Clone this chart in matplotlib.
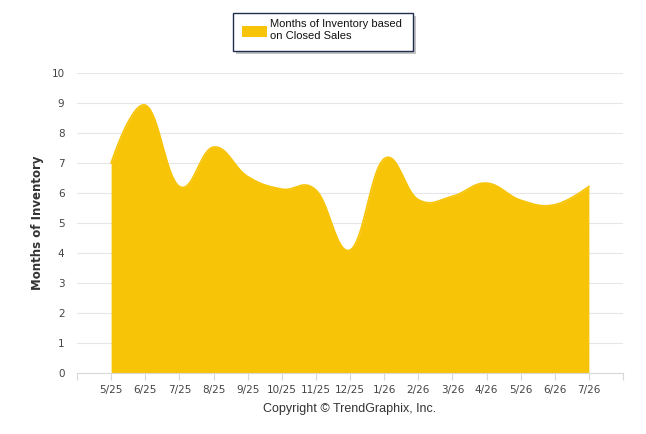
import numpy as np
import matplotlib.pyplot as plt
from matplotlib.patches import Rectangle

months = ['5/25', '6/25', '7/25', '8/25', '9/25', '10/25', '11/25', '12/25',
          '1/26', '2/26', '3/26', '4/26', '5/26', '6/26', '7/26']
inventory = [7.0, 8.93, 6.22, 7.53, 6.55, 6.13, 6.1, 4.1,
             7.14, 5.78, 5.89, 6.33, 5.76, 5.61, 6.22]
yticks = list(range(0, 11))

gold = '#F7C407'


def spline(xs, ys, smoothing=1.5, n=40):
    # highcharts-like areaspline bezier
    denom = smoothing + 1
    m = len(xs)
    lc = [(xs[i], ys[i]) for i in range(m)]
    rc = [(xs[i], ys[i]) for i in range(m)]
    for i in range(1, m - 1):
        x, y = xs[i], ys[i]
        lx = (smoothing * x + xs[i - 1]) / denom
        ly = (smoothing * y + ys[i - 1]) / denom
        rx = (smoothing * x + xs[i + 1]) / denom
        ry = (smoothing * y + ys[i + 1]) / denom
        corr = (ry - ly) * (rx - x) / (rx - lx) + y - ry
        lc[i] = (lx, ly + corr)
        rc[i] = (rx, ry + corr)
    px, py = [xs[0]], [ys[0]]
    t = np.linspace(0, 1, n)[1:]
    for i in range(1, m):
        p0 = (xs[i - 1], ys[i - 1])
        p1 = rc[i - 1]
        p2 = lc[i]
        p3 = (xs[i], ys[i])
        for k in range(2):
            v = ((1 - t) ** 3 * p0[k] + 3 * (1 - t) ** 2 * t * p1[k]
                 + 3 * (1 - t) * t ** 2 * p2[k] + t ** 3 * p3[k])
            (px if k == 0 else py).extend(v)
    return np.array(px), np.array(py)


fig = plt.figure(figsize=(6.46, 4.34), dpi=100)
ax = fig.add_axes([77 / 646, 1 - 373 / 434, 546 / 646, 300 / 434])

x = np.arange(len(months))
sx, sy = spline(x, inventory)
ax.fill_between(sx, 0, sy, color=gold, linewidth=0, zorder=2)
ax.plot(sx, sy, color=gold, linewidth=1.2, zorder=3)

ax.set_xlim(-1, len(months))
ax.set_ylim(0, 10)
ax.set_yticks(yticks)
ax.set_yticklabels([str(v) for v in yticks])
ax.set_xticks(np.arange(-1, len(months) + 1))
ax.set_xticklabels([''] + months + [''])

for v in yticks[1:]:
    ax.axhline(v, color='#e6e6e6', linewidth=0.8, zorder=1)

for s in ['top', 'right', 'left']:
    ax.spines[s].set_visible(False)
ax.spines['bottom'].set_color('#d8d8d8')
ax.spines['bottom'].set_linewidth(0.8)
ax.spines['bottom'].set_zorder(4)

ax.tick_params(axis='y', length=0, pad=9, labelsize=7.5, labelcolor='#444444')
ax.tick_params(axis='x', length=5, width=0.8, color='#d8d8d8', pad=4,
               labelsize=7.5, labelcolor='#444444')

ax.set_ylabel('Months of Inventory', fontsize=8.5, fontweight='bold',
              color='#333333', va='center')
ax.yaxis.set_label_coords(-39 / 546, 0.5)

fig.text(350 / 646, 1 - 409 / 434, 'Copyright \u00a9 TrendGraphix, Inc.',
         ha='center', va='center', fontsize=9, color='#333333',
         family='Liberation Sans')

# legend box
shadow = Rectangle((236 / 646, 1 - 54 / 434), 180 / 646, 38 / 434,
                   transform=fig.transFigure, facecolor='#9a9a9a',
                   edgecolor='none', alpha=0.6)
box = Rectangle((233 / 646, 1 - 51 / 434), 180 / 646, 38 / 434,
                transform=fig.transFigure, facecolor='white',
                edgecolor='#1f2e4d', linewidth=1.0)
swatch = Rectangle((242 / 646, 1 - 37 / 434), 25 / 646, 11 / 434,
                   transform=fig.transFigure, facecolor=gold,
                   edgecolor='none')
for p in (shadow, box, swatch):
    fig.patches.append(p)
fig.text(270 / 646, 1 - 30 / 434, 'Months of Inventory based\non Closed Sales',
         ha='left', va='center', fontsize=8, color='#111111',
         family='Liberation Sans', linespacing=1.15)

fig.savefig('out.png', dpi=100)
